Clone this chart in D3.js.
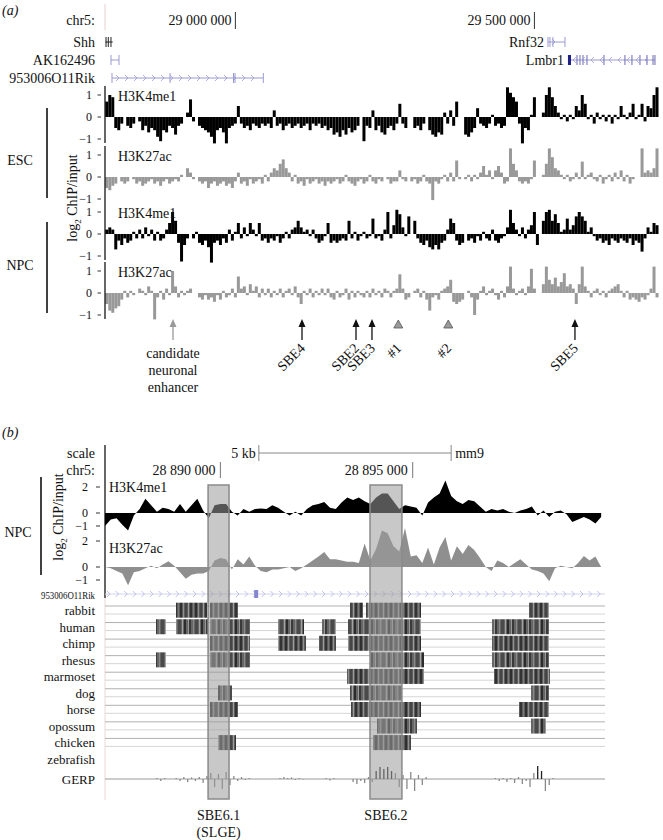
<!DOCTYPE html>
<html>
<head>
<meta charset="utf-8">
<style>
  body { margin: 0; background: #fff; }
  svg { font-family: 'Liberation Serif', 'Times New Roman', serif; }
</style>
</head>
<body>
<svg width="663" height="840"></svg>
<script src="https://d3js.org/d3.v7.min.js"></script>
<script>
// ---------------- data, part (a) ----------------
// log2 ChIP/input in 5 kb bins, starting at chr5:28,782,500 (null = no data)
const binStartA = 28782500, binSizeA = 5000;

const k4Esc = [0.7,1.0,0.9,-0.5,-0.6,-0.3,null,-0.4,-0.5,-0.3,
 null,-0.2,-0.6,-0.4,-0.7,-0.5,-0.6,-0.9,-1.1,-0.6,
 -0.7,-0.4,-0.5,-0.8,-0.4,-0.3,null,0.2,0.8,-0.2,
 null,-0.4,-0.5,-0.6,-0.7,-0.9,-1.2,-0.6,-0.5,-0.7,
 -1.2,-0.5,-0.4,-0.3,0.5,-0.3,-0.5,-0.4,-0.6,-0.3,
 -0.4,-0.5,-0.3,-0.4,-0.3,-0.5,0.3,-0.4,-0.3,-0.6,
 -0.4,-0.3,-0.5,-0.4,-0.3,-0.5,-0.4,-0.3,-0.6,-0.3,
 -0.4,-0.3,-0.5,-0.4,-0.6,-0.5,-0.8,-0.7,-0.9,-0.6,
 -0.8,-0.5,-0.7,-0.6,-0.4,null,-1.1,-0.4,-0.5,0.3,
 -0.6,-0.4,-0.7,-0.8,-0.5,-0.4,-0.6,-0.3,0.6,-0.3,
 -0.5,null,null,-0.5,-0.4,-0.6,-0.3,null,-0.6,-0.8,
 -0.9,-0.7,-0.8,0.2,-0.3,0.3,-0.4,0.7,null,null,
 -0.8,-0.9,-0.7,-0.5,0.4,-0.3,-0.4,-0.5,-0.3,0.1,
 -0.4,-0.3,-0.5,-0.4,1.35,1.1,0.9,0.7,-0.3,-1.2,
 -0.5,-0.6,0.1,0.9,null,null,0.2,1.0,1.35,0.9,
 0.5,0.2,-0.1,0.1,-0.2,0.1,-0.1,0.5,0.3,1.0,
 0.6,-0.1,0.1,-0.3,0.2,-0.1,0.1,-0.2,0.1,-0.3,
 0.1,-0.1,0.5,0.1,-0.1,0.2,0.6,-0.1,0.1,0.6,
 -0.2,0.5,0.4,1.0,1.35];

const k27Esc = [-0.5,-0.6,-0.4,-0.3,null,-0.2,-0.3,-0.2,null,-0.1,
 -0.3,-0.2,-0.4,-0.3,-0.2,-0.1,-0.3,-0.2,-0.4,-0.2,
 -0.1,-0.3,-0.2,-0.1,-0.2,0.1,null,0.4,0.2,-0.1,
 null,-0.2,-0.3,-0.2,-0.5,-0.3,-0.2,-0.4,-0.3,-0.2,
 -0.4,-0.3,-0.5,-0.2,0.2,-0.3,-0.2,-0.4,-0.1,-0.3,
 -0.2,-0.1,-0.3,0.1,-0.2,0.2,0.4,0.3,0.6,0.8,
 0.4,0.2,-0.2,0.1,-0.3,-0.2,-0.4,-0.1,-0.3,-0.2,
 -0.1,-0.3,-0.2,-0.4,-0.2,-0.3,-0.2,-0.1,-0.3,-0.2,
 0.1,-0.2,-0.3,-0.4,-0.2,-0.1,-0.3,-0.2,0.1,-0.2,
 -0.3,-0.1,-0.2,null,-0.1,-0.3,-0.2,-0.2,0.3,-0.1,
 -0.2,null,-0.2,-0.1,-0.3,-0.2,0.1,-0.2,-0.3,-1.05,
 -0.2,-0.3,-0.1,0.1,-0.2,0.2,-0.2,0.75,-0.1,null,
 -0.1,0.1,-0.2,0.1,-0.1,0.2,0.5,0.1,0.3,-0.1,
 0.3,0.5,0.2,-0.3,-0.2,1.3,0.6,0.3,-0.2,-0.3,
 -0.2,-0.3,-0.1,0.75,null,null,0.1,0.6,1.3,0.9,
 0.4,0.3,0.1,-0.1,0.1,-0.2,-0.1,0.2,-0.1,0.7,
 -0.1,0.1,0.2,-0.1,-0.2,0.1,-0.3,-0.1,0.1,-0.2,
 0.2,-0.1,0.3,-0.2,0.1,-0.3,-0.1,null,null,1.3,
 0.2,0.3,0.2,0.4,1.3];

const k4Npc = [0.2,0.3,0.2,-0.7,-0.3,-0.5,-0.2,-0.4,-0.3,0.1,
 -0.2,0.2,-0.2,0.3,-0.1,0.2,-0.3,0.1,-0.3,-0.2,
 0.2,0.5,1.0,0.6,-0.4,-1.25,-0.5,-0.2,null,-0.2,
 0.1,-0.4,-0.5,-0.3,-0.6,-1.3,-0.4,-0.3,-0.5,-0.2,
 -0.4,0.2,-0.3,0.1,0.5,-0.2,0.3,-0.1,0.5,0.2,
 -0.1,0.5,-0.3,-0.2,-0.4,-0.2,-0.3,-0.1,-0.4,-0.2,
 0.1,-0.2,0.2,0.3,0.6,0.3,0.1,0.2,-0.1,0.2,
 -0.2,-0.4,-0.3,-0.1,0.5,-0.4,-0.3,-0.4,-0.3,-0.2,
 -0.3,0.6,-0.2,0.1,-0.3,-0.1,0.1,-0.2,-0.1,0.7,
 -0.2,-0.1,-0.3,0.2,1.0,-0.2,0.4,1.1,0.9,0.3,
 -0.1,0.8,null,0.6,-0.2,-0.4,-0.5,-0.3,-0.6,-0.7,
 -0.5,-0.7,-0.4,-0.3,0.2,0.7,0.5,-0.3,-0.5,-0.4,
 null,-0.3,-0.2,-0.4,-0.1,-0.3,0.1,-0.2,-0.3,0.2,
 -0.3,-0.4,-0.2,-0.1,0.3,1.1,0.5,0.2,-0.1,0.3,
 -0.2,0.2,0.4,1.0,-0.5,null,0.6,1.0,1.1,0.6,
 0.9,0.5,0.1,0.2,0.7,0.2,0.4,0.8,1.0,0.8,
 0.6,0.1,0.3,-0.1,-0.3,-0.2,-0.4,-0.3,-0.5,-0.2,
 -0.3,-0.4,-0.2,-0.3,-0.4,-0.2,-0.5,-0.3,-0.4,-0.8,
 -0.2,0.3,0.1,0.5,0.4];

const k27Npc = [-0.5,-0.8,-0.9,-0.7,-0.6,-0.3,0.1,-0.2,0.1,-0.1,
 null,0.2,0.1,-0.1,0.3,0.1,-1.2,-0.2,0.1,-0.3,
 0.2,-0.1,1.0,0.3,-0.2,0.1,-0.1,0.1,0.2,null,
 null,-0.2,-0.3,-0.1,-0.3,-0.2,-0.4,-0.1,-0.3,0.1,
 -0.2,-0.1,0.2,-0.2,0.75,0.2,0.3,-0.1,0.4,0.1,
 0.3,-0.2,0.2,-0.1,0.2,-0.2,0.1,-0.1,0.2,-0.2,
 0.1,0.2,-0.1,0.3,-0.2,-0.5,0.1,-0.1,0.2,-0.2,
 0.1,-0.1,0.2,-0.1,0.2,-0.2,-0.3,0.1,-0.2,-0.1,
 0.2,-0.3,0.1,-0.2,0.1,-0.1,-0.2,0.1,-0.2,0.2,
 -0.1,0.1,-0.2,0.2,0.1,-0.2,0.1,0.2,0.85,0.2,
 -0.3,-0.2,null,0.1,0.2,-0.2,0.1,-0.3,-0.8,-0.2,
 -0.1,-0.3,0.1,0.2,0.3,0.6,-0.4,-0.5,-0.4,-0.3,
 null,0.1,-0.2,-1.0,-0.3,0.1,0.3,-0.1,0.1,0.2,
 -0.1,-0.3,0.1,-0.2,0.3,1.2,0.2,-0.1,0.1,0.2,
 -0.1,0.3,1.1,0.2,null,null,0.4,1.2,0.6,0.4,
 0.7,0.3,0.5,0.9,0.3,0.4,0.2,-0.5,0.4,1.2,
 0.3,0.1,-0.2,0.1,0.2,-0.1,0.1,-0.2,0.1,0.2,
 0.3,0.4,0.1,-0.2,0.1,-0.3,-0.2,-0.3,-0.4,-0.2,
 -0.3,-0.1,0.2,1.2,-0.2];

const cellTypes = ["ESC", "ESC", "NPC", "NPC"];
const markNamesA = ["H3K4me1", "H3K27ac", "H3K4me1", "H3K27ac"];

// genes (mm9 coordinates)
const geneNames = ["Shh", "AK162496", "953006O11Rik", "Rnf32", "Lmbr1"];
const geneRow = [0, 1, 2, 0, 1];
const geneStart = [28782500, 28792000, 28793700, 29522700, 29556100];
const geneEnd = [28794900, 28805400, 29046700, 29551100, 29701600];
const geneStrand = ["", "", "+", "+", "-"];
const geneExons = [
  [28783700, 28787500, 28792000],
  [28792000, 28805400],
  [28793700, 28890700, 28996900, 28999400, 29046700],
  [29522700, 29526000, 29531000, 29551100],
  [29571200, 29576200, 29581200, 29587900, 29616300, 29651400, 29663100, 29676500, 29688200, 29698300, 29701600]
];
const geneThick = [null, null, null, null, [29556100, 29561200]];

const chrTicksA = [29000000, 29500000];
const chrTickLabelsA = ["29 000 000", "29 500 000"];

// marked elements below the tracks
const siteNames = ["SBE4", "SBE2", "SBE3", "#1", "#2", "SBE5"];
const sitePos = [29111400, 29201700, 29228400, 29272400, 29356000, 29567800];
const siteKind = ["arrow", "arrow", "arrow", "tri", "tri", "arrow"];
const candidatePos = 28895700;
const candidateLines = ["candidate", "neuronal", "enhancer"];

// ---------------- data, part (b) ----------------
// NPC log2 ChIP/input every 150 bp from chr5:28,887,000
const bStart = 28887000, bStep = 150;
const k4B = [-1.0,-0.5,-0.4,-0.9,-1.35,-0.2,0.3,1.1,0.6,0.1,
 0.4,0.3,0.1,0.7,0.1,0.6,1.1,0.2,-0.4,0.6,
 0.7,0.7,0.1,-0.2,0.3,0.1,0.3,0.35,0.3,0.6,
 0.4,0.1,-0.2,0.1,-0.2,0.3,0.6,0.7,0.85,0.4,
 0.3,0.8,1.2,1.0,1.2,0.9,0.7,1.2,1.5,1.5,
 0.9,0.3,0.6,0.5,0.4,-0.2,0.8,1.2,1.5,2.5,
 1.3,0.9,0.7,1.0,0.9,0.5,0.1,0.3,0.2,0.3,
 0.1,0.0,0.2,0.3,0.5,-0.2,0.2,-0.3,0.1,0.2,
 -0.1,-0.7,-0.5,-0.3,-0.5,-0.8,-0.3];
const k27B = [0.0,-0.1,-0.3,-0.5,-1.4,-0.4,-0.3,-0.1,0.1,-0.1,
 0.2,0.45,0.1,-0.4,-0.9,-0.6,-0.5,-0.5,-0.3,0.5,
 0.7,0.6,-0.2,0.6,0.2,0.8,0.1,-0.3,-0.4,-0.2,
 -0.2,-0.1,0.0,-0.3,-0.1,0.2,0.5,0.8,1.15,0.6,
 0.6,0.5,0.4,0.4,0.3,1.8,0.5,1.4,2.8,2.6,
 1.6,1.2,3.0,0.8,0.9,0.3,1.5,0.2,1.5,2.3,
 0.5,1.6,1.0,1.7,1.3,0.7,0.0,-0.3,0.5,0.3,
 0.0,0.3,0.6,0.2,-0.2,-0.3,-0.5,-1.1,-0.1,0.1,
 0.0,-0.1,0.3,0.85,0.5,0.8,0.0];

const chrTicksB = [28890000, 28895000];
const chrTickLabelsB = ["28 890 000", "28 895 000"];
const scaleBar = [28891000, 28896000];
const rikBox = 28890930;

const species = ["rabbit", "human", "chimp", "rhesus", "marmoset", "dog", "horse", "opossum", "chicken", "zebrafish"];
const consBlocks = [
  [[28888846, 28889652], [28889730, 28890458], [28893370, 28893708], [28893786, 28895216], [28898024, 28898544]],
  [[28888326, 28888586], [28888846, 28889678], [28889730, 28890770], [28891498, 28892174], [28892642, 28893006], [28893318, 28895216], [28897062, 28898544]],
  [[28889730, 28890770], [28891498, 28892226], [28892564, 28893006], [28893318, 28895216], [28897062, 28898544]],
  [[28888326, 28888586], [28889730, 28890770], [28893890, 28895294], [28897062, 28898544]],
  [[28893292, 28895294], [28897114, 28898570]],
  [[28889938, 28890302], [28893370, 28894722], [28898076, 28898544]],
  [[28889730, 28890458], [28893396, 28895216], [28897764, 28898544]],
  [[28894072, 28895112], [28898076, 28898466]],
  [[28889938, 28890406], [28893968, 28894956]],
  []
];

// GERP score every 100 bp from chr5:28,887,000
const gerp = [0,0,0,0,0,0,0,0,0,0,0,0,0,0.5,-1,0.5,0,0,0.5,-1,
 1,-1.5,0.8,-1,1,-2,1.5,3,-4,2.5,-5,3.5,-3,1.5,-1,1,-0.5,0.5,0,0,
 0,0,0,0,0,0.5,1,0.5,0.8,-0.5,0.5,-0.3,0,0,0,0,0,0.5,-0.8,0.5,
 0,0,0,0,-1.5,-2.5,-1,-2,1,-1.5,4,6,5,6,4,3,-4,2,-5,3.5,
 -6,2,-3,1,0,0,0,0,0,0,0,0,0,0,0,0,0,0,0,0,
 0,0.5,-1,0.5,-1.5,0.5,-2,1,-2.5,-1,-4,3,6.5,4,-6,-3,0.5,0,0,0,
 0,0,0,0,0,0,0,0,0,0];

const boxStart = [28889680, 28893890];
const boxEnd = [28890225, 28894720];
const boxLabels = [["SBE6.1", "(SLGE)"], ["SBE6.2"]];

// ---------------- drawing ----------------
let svg = d3.select("svg");

function txt(x, y, s, size, anchor) {
  return svg.append("text")
    .attr("x", x).attr("y", y)
    .attr("font-size", size || 14)
    .attr("text-anchor", anchor || "end")
    .attr("fill", "#111")
    .text(s);
}

// ===== (a) =====
let xA = d3.scaleLinear().domain([28782000, 29710000]).range([105, 660]);
let binW = xA(binStartA + binSizeA) - xA(binStartA);

txt(2, 15, "(a)", 14, "start").attr("font-style", "italic");
txt(95, 25, "chr5:");
svg.append("line").attr("x1", 105).attr("x2", 105).attr("y1", 4).attr("y2", 30)
  .attr("stroke", "#e6cfcf");

chrTicksA.forEach((p, i) => {
  svg.append("line").attr("x1", xA(p)).attr("x2", xA(p)).attr("y1", 12).attr("y2", 29)
    .attr("stroke", "#333");
  txt(xA(p) - 4, 25, chrTickLabelsA[i]);
});

// genes
let geneY = [42, 60, 78];
geneNames.forEach((name, i) => {
  let y = geneY[geneRow[i]];
  let col = name == "Shh" ? "#222" : "#9a9ad2";
  let x0 = xA(geneStart[i]), x1 = xA(geneEnd[i]);
  let g = svg.append("g");
  g.append("line").attr("x1", x0).attr("x2", x1).attr("y1", y).attr("y2", y)
    .attr("stroke", col).attr("stroke-width", 1);
  g.selectAll(".ex").data(geneExons[i]).join("line")
    .attr("x1", d => xA(d)).attr("x2", d => xA(d))
    .attr("y1", y - 5).attr("y2", y + 5)
    .attr("stroke", name == "Lmbr1" ? "#6a6ab4" : col).attr("stroke-width", 1);
  if (geneThick[i]) {
    g.append("rect").attr("x", xA(geneThick[i][0])).attr("width", xA(geneThick[i][1]) - xA(geneThick[i][0]))
      .attr("y", y - 5).attr("height", 10).attr("fill", "#1f1f86");
  }
  if (geneStrand[i]) {
    let dir = geneStrand[i] == "+" ? 1 : -1;
    let chev = d3.range(x0 + 6, x1 - 3, 9);
    g.selectAll(".ch").data(chev).join("path")
      .attr("d", d => `M${d - 2 * dir},${y - 3}L${d + dir},${y}L${d - 2 * dir},${y + 3}`)
      .attr("fill", "none").attr("stroke", col).attr("stroke-width", 0.8);
  }
  let lx = x0 < 140 ? 95 : x0 - 4;
  txt(lx, y + 5, name);
});

// signal tracks
let zeroA = [117, 177, 234, 293];
let valsA = [k4Esc, k27Esc, k4Npc, k27Npc];
valsA.forEach((vals, k) => {
  let z = zeroA[k];
  let y = d3.scaleLinear().domain([-1, 1]).range([z + 22, z - 22]);
  let color = markNamesA[k] == "H3K4me1" ? "#000" : "#999";
  svg.append("g")
    .selectAll("rect")
    .data(vals.map((v, i) => ({v: v, i: i})).filter(d => d.v !== null))
    .join("rect")
    .attr("x", d => xA(binStartA + d.i * binSizeA))
    .attr("width", binW)
    .attr("y", d => Math.min(y(d.v), y(0)))
    .attr("height", d => Math.max(0.6, Math.abs(y(d.v) - y(0))))
    .attr("fill", color);

  svg.append("line").attr("x1", 105).attr("x2", 105).attr("y1", z - 31).attr("y2", z + 26)
    .attr("stroke", "#000").attr("stroke-width", 1.2);
  [1, 0, -1].forEach(t => {
    txt(92, y(t) + 4, t < 0 ? "\u2212" + Math.abs(t) : String(t), 12);
    svg.append("line").attr("x1", 97.5).attr("x2", 101).attr("y1", y(t)).attr("y2", y(t))
      .attr("stroke", "#333");
  });
  txt(118, z - 16, markNamesA[k], 14, "start");
});

// cell type brackets
[["ESC", 108, 198, 165], ["NPC", 222, 313, 270]].forEach(c => {
  svg.append("line").attr("x1", 47).attr("x2", 47).attr("y1", c[1]).attr("y2", c[2])
    .attr("stroke", "#000").attr("stroke-width", 1.5);
  txt(20, c[3], c[0], 14, "middle");
});

function logLabel(x, y) {
  let t = svg.append("text")
    .attr("transform", `translate(${x},${y}) rotate(-90)`)
    .attr("text-anchor", "middle").attr("font-size", 14).attr("fill", "#111");
  t.append("tspan").text("log");
  t.append("tspan").attr("font-size", 9).attr("dy", 4).text("2");
  t.append("tspan").attr("dy", -4).text(" ChIP/input");
}
logLabel(77, 198);

// arrows and triangles
let ay0 = 319, ay1 = 340;
function arrow(x, col) {
  svg.append("line").attr("x1", x).attr("x2", x).attr("y1", ay0 + 5).attr("y2", ay1)
    .attr("stroke", col).attr("stroke-width", 1.3);
  svg.append("path").attr("d", `M${x},${ay0}L${x - 3.5},${ay0 + 8}L${x + 3.5},${ay0 + 8}Z`)
    .attr("fill", col);
}
arrow(xA(candidatePos), "#999");
candidateLines.forEach((s, i) => txt(xA(candidatePos), 358 + i * 17, s, 14, "middle"));

sitePos.forEach((p, i) => {
  let x = xA(p);
  if (siteKind[i] == "arrow") arrow(x, "#111");
  else svg.append("path").attr("d", `M${x},${ay0 + 1}L${x - 4.5},${ay0 + 9}L${x + 4.5},${ay0 + 9}Z`)
    .attr("fill", "#9a9a9a").attr("stroke", "#555").attr("stroke-width", 0.8);
  svg.append("text")
    .attr("transform", `translate(${x + 4},${349}) rotate(-45)`)
    .attr("text-anchor", "end").attr("font-size", 14).attr("fill", "#111")
    .text(siteNames[i]);
});

// ===== (b) =====
let xB = d3.scaleLinear().domain([28887000, 28900000]).range([105, 605]);

txt(2, 437, "(b)", 14, "start").attr("font-style", "italic");
txt(95, 458, "scale");
txt(95, 475, "chr5:");

// scale bar
let sb0 = xB(scaleBar[0]), sb1 = xB(scaleBar[1]);
svg.append("line").attr("x1", sb0).attr("x2", sb1).attr("y1", 453).attr("y2", 453).attr("stroke", "#888");
[sb0, sb1].forEach(x => svg.append("line").attr("x1", x).attr("x2", x).attr("y1", 445).attr("y2", 461).attr("stroke", "#888"));
txt(sb0 - 3, 458, "5 kb");
txt(sb1 + 4, 458, "mm9", 14, "start");

chrTicksB.forEach((p, i) => {
  svg.append("line").attr("x1", xB(p)).attr("x2", xB(p)).attr("y1", 462).attr("y2", 478)
    .attr("stroke", "#777");
  txt(xB(p) - 5, 475, chrTickLabelsB[i]);
});

// axis line of part (b)
svg.append("line").attr("x1", 105).attr("x2", 105).attr("y1", 445).attr("y2", 598)
  .attr("stroke", "#000").attr("stroke-width", 1.2);
svg.append("line").attr("x1", 105).attr("x2", 105).attr("y1", 598).attr("y2", 800)
  .attr("stroke", "#f0d6d6");

let tracksB = [
  {vals: k4B, y: d3.scaleLinear().domain([-1, 2]).range([526, 487]), color: "#000", name: "H3K4me1", ly: 492},
  {vals: k27B, y: d3.scaleLinear().domain([-1, 2]).range([580, 541]), color: "#8f8f8f", name: "H3K27ac", ly: 553}
];
tracksB.forEach(t => {
  let area = d3.area()
    .x((d, i) => xB(bStart + i * bStep))
    .y0(t.y(0))
    .y1(d => t.y(d));
  svg.append("path").datum(t.vals).attr("d", area).attr("fill", t.color);
  [2, 0, -1].forEach(v => {
    txt(88, t.y(v) + 4, v < 0 ? "\u2212" + Math.abs(v) : String(v), 12);
    svg.append("line").attr("x1", 96).attr("x2", 100).attr("y1", t.y(v)).attr("y2", t.y(v)).attr("stroke", "#333");
  });
  txt(109, t.ly, t.name, 14, "start");
});

svg.append("line").attr("x1", 41).attr("x2", 41).attr("y1", 477).attr("y2", 575)
  .attr("stroke", "#000").attr("stroke-width", 1.5);
txt(18, 537, "NPC", 14, "middle");
logLabel(63, 517);

// gene row in (b)
txt(95, 598.5, "953006O11Rik", 9.5).attr("textLength", 54).attr("lengthAdjust", "spacingAndGlyphs");
svg.append("line").attr("x1", 105).attr("x2", 605).attr("y1", 594).attr("y2", 594).attr("stroke", "#d4d4ee");
svg.append("g").selectAll("path").data(d3.range(109, 604, 8.6)).join("path")
  .attr("d", d => `M${d - 2},${591}L${d + 1},${594}L${d - 2},${597}`)
  .attr("fill", "none").attr("stroke", "#b4b4e4").attr("stroke-width", 0.8);
svg.append("rect").attr("x", xB(rikBox) - 2).attr("width", 4).attr("y", 590).attr("height", 8).attr("fill", "#8585d4");

// conservation stripes
let defs = svg.append("defs");
let stripeSets = [
  {w: 15, bg: "#5c5c5c", s: [[0, 2, "#2f2f2f"], [3, 1, "#8f8f8f"], [5, 2, "#454545"], [8, 1, "#9c9c9c"], [10, 2, "#333"], [13, 1, "#7a7a7a"]]},
  {w: 17, bg: "#666", s: [[1, 1, "#999"], [2, 2, "#3a3a3a"], [6, 1, "#8a8a8a"], [8, 3, "#4a4a4a"], [12, 1, "#a2a2a2"], [14, 2, "#2c2c2c"]]}
];
stripeSets.forEach((p, k) => {
  let pat = defs.append("pattern").attr("id", "stripe" + k)
    .attr("patternUnits", "userSpaceOnUse").attr("width", p.w).attr("height", 840);
  pat.append("rect").attr("width", p.w).attr("height", 840).attr("fill", p.bg);
  p.s.forEach(s => pat.append("rect").attr("x", s[0]).attr("width", s[1]).attr("height", 840).attr("fill", s[2]));
});

let rowY = i => 610 + i * 16.55;
species.forEach((sp, i) => {
  let y = rowY(i);
  txt(95, y + 5, sp, 13);
  if (consBlocks[i].length) {
    svg.append("line").attr("x1", 105).attr("x2", 605).attr("y1", y - 4).attr("y2", y - 4).attr("stroke", "#b0b0b0");
    svg.append("line").attr("x1", 105).attr("x2", 605).attr("y1", y + 4).attr("y2", y + 4).attr("stroke", "#d6d6d6");
  }
  svg.append("g").selectAll("rect").data(consBlocks[i]).join("rect")
    .attr("x", d => xB(d[0])).attr("width", d => xB(d[1]) - xB(d[0]))
    .attr("y", y - 7.3).attr("height", 15)
    .attr("fill", `url(#stripe${i % 2})`);
});

// GERP
let gY = d3.scaleLinear().domain([-6, 6]).range([791, 767]);
txt(95, 784, "GERP", 13);
svg.append("line").attr("x1", 105).attr("x2", 605).attr("y1", gY(0)).attr("y2", gY(0)).attr("stroke", "#999");
svg.append("g").selectAll("line").data(gerp.map((v, i) => ({v: v, i: i})).filter(d => d.v != 0)).join("line")
  .attr("x1", d => xB(bStart + d.i * 100 + 50)).attr("x2", d => xB(bStart + d.i * 100 + 50))
  .attr("y1", gY(0)).attr("y2", d => gY(d.v))
  .attr("stroke", d => d.v >= 4 ? "#222" : "#888").attr("stroke-width", 1.3);

// highlighted enhancers
boxStart.forEach((s, i) => {
  let x0 = xB(s), x1 = xB(boxEnd[i]);
  svg.append("rect").attr("x", x0).attr("width", x1 - x0).attr("y", 485).attr("height", 314)
    .attr("fill", "#9b9b9b").attr("fill-opacity", 0.55)
    .attr("stroke", "#8a8a8a").attr("stroke-width", 1.5);
  boxLabels[i].forEach((s2, j) => txt((x0 + x1) / 2, 820 + j * 17, s2, 14, "middle"));
});
</script>
</body>
</html>
